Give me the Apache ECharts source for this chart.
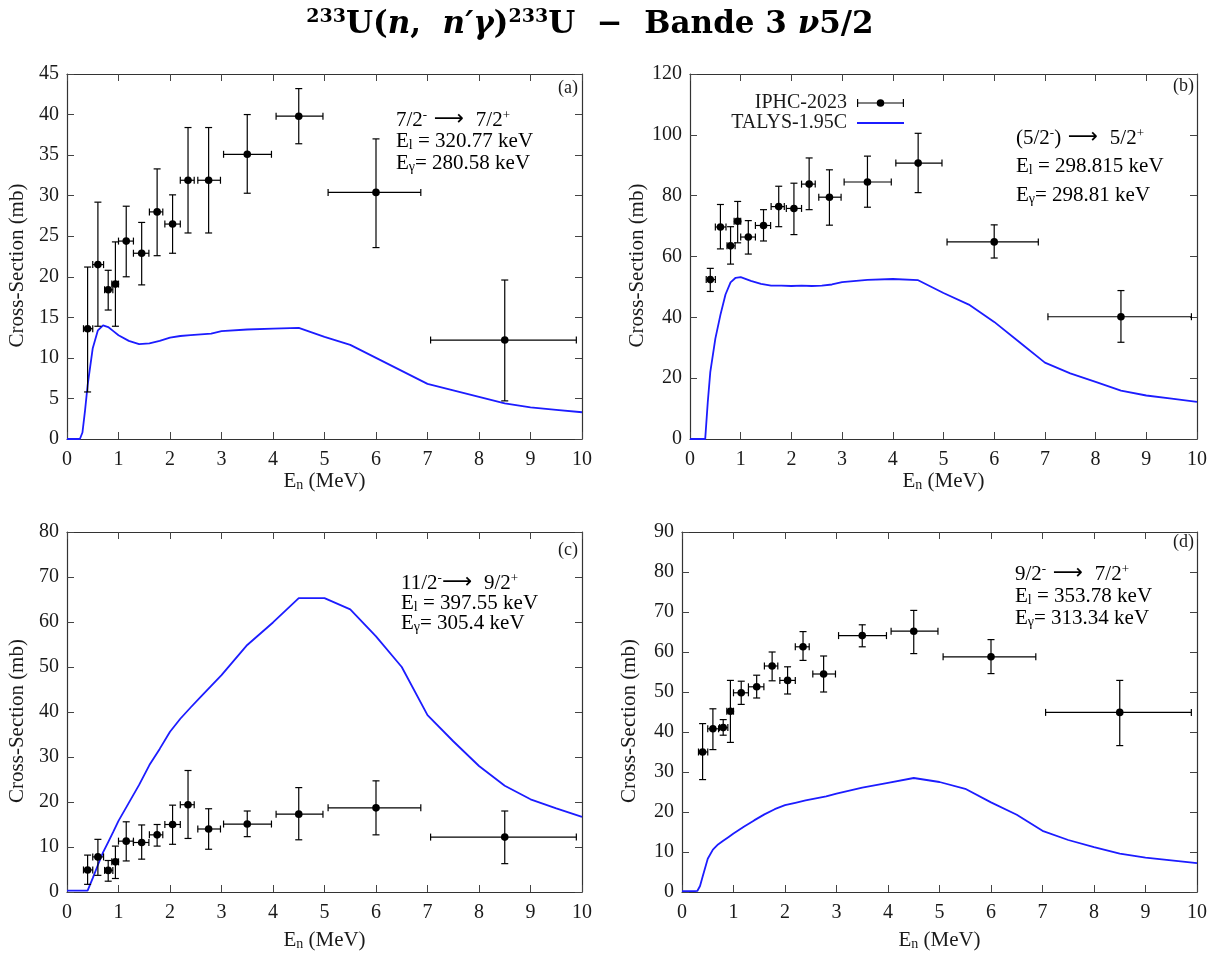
<!DOCTYPE html>
<html><head><meta charset="utf-8">
<script src="https://cdn.jsdelivr.net/npm/echarts@6/dist/echarts.min.js"></script>
<style>html,body{margin:0;padding:0;background:#fff}#c{width:1219px;height:953px}</style>
</head><body><div id="c"></div>
<script>
// ---- measured points (IPHC-2023) ----
const energy     = [0.4, 0.6, 0.8, 0.94, 1.15, 1.45, 1.75, 2.05, 2.35, 2.75, 3.5, 4.5, 6.0, 8.5];
const energyLow  = [0.32, 0.5, 0.73, 0.87, 1.0, 1.29, 1.6, 1.9, 2.2, 2.54, 3.04, 4.06, 5.07, 7.06];
const energyHigh = [0.5, 0.71, 0.89, 1.0, 1.29, 1.59, 1.86, 2.2, 2.47, 2.98, 3.97, 4.97, 6.87, 9.89];

const valA  = [13.6, 21.5, 18.4, 19.1, 24.4, 22.9, 28.0, 26.5, 31.9, 31.9, 35.1, 39.8, 30.4, 12.2];
const lowA  = [5.8, 13.9, 15.9, 13.9, 20.0, 19.0, 22.6, 22.9, 25.4, 25.4, 30.3, 36.4, 23.6, 4.7];
const highA = [21.2, 29.2, 20.8, 24.3, 28.7, 26.7, 33.3, 30.1, 38.4, 38.4, 40.0, 43.2, 37.0, 19.6];

const valB  = [52.4, 69.7, 63.5, 71.6, 66.4, 70.2, 76.4, 75.8, 83.8, 79.5, 84.5, 90.7, 64.8, 40.2];
const lowB  = [48.5, 62.5, 57.5, 64.5, 60.8, 65.1, 69.8, 67.2, 75.4, 70.3, 76.2, 81.0, 59.5, 31.8];
const highB = [56.1, 77.1, 69.8, 78.1, 71.8, 75.4, 83.1, 84.1, 92.4, 88.5, 93.0, 100.5, 70.4, 48.8];

const valC  = [4.9, 7.8, 4.8, 6.7, 11.3, 11.0, 12.7, 15.0, 19.4, 14.0, 15.1, 17.3, 18.7, 12.2];
const lowC  = [1.7, 3.7, 2.4, 3.0, 6.9, 7.3, 10.2, 10.6, 11.9, 9.5, 12.3, 11.6, 12.7, 6.3];
const highC = [8.2, 11.7, 7.0, 10.2, 15.6, 14.9, 15.0, 19.3, 27.0, 18.5, 18.0, 23.2, 24.7, 18.0];

const valD  = [35.0, 40.8, 41.1, 45.2, 49.8, 51.3, 56.5, 52.9, 61.3, 54.5, 64.1, 65.2, 58.8, 44.9];
const lowD  = [28.1, 35.6, 39.2, 37.4, 46.9, 48.5, 52.8, 49.5, 57.9, 50.0, 61.3, 59.6, 54.6, 36.6];
const highD = [42.1, 45.8, 43.1, 52.9, 52.7, 54.2, 60.0, 56.3, 65.1, 59.0, 66.8, 70.4, 63.1, 52.9];

// ---- TALYS-1.95C curves ----
const talysE = [0, 0.25, 0.3, 0.35, 0.4, 0.5, 0.6, 0.7, 0.8, 0.9, 1.0, 1.2, 1.4, 1.6, 1.8, 2.0, 2.2, 2.4, 2.6, 2.8, 3.0, 3.5, 4.0, 4.5, 5.0, 5.5, 6.0, 6.5, 7.0, 7.5, 8.0, 8.5, 9.0, 9.5, 10];
const talysA = [0, 0, 0.8, 3.5, 6.6, 11.2, 13.4, 14.0, 13.8, 13.3, 12.8, 12.1, 11.7, 11.8, 12.1, 12.5, 12.7, 12.8, 12.9, 13.0, 13.3, 13.5, 13.6, 13.7, 12.6, 11.6, 10.0, 8.4, 6.8, 6.0, 5.2, 4.4, 3.9, 3.6, 3.3];
const talysB = [0, 0, 0, 12, 22, 33, 40.8, 47.5, 51.5, 53.0, 53.2, 52.0, 51.0, 50.4, 50.4, 50.3, 50.4, 50.3, 50.4, 50.8, 51.6, 52.3, 52.6, 52.2, 48.0, 44.2, 38.5, 31.8, 25.1, 21.6, 18.8, 15.9, 14.3, 13.3, 12.2];
const talysC = [0.3, 0.3, 0.3, 0.3, 0.3, 3.1, 6.0, 8.8, 11.1, 13.4, 15.8, 19.8, 23.8, 28.2, 31.8, 35.6, 38.5, 41.0, 43.4, 45.8, 48.2, 54.9, 59.9, 65.3, 65.3, 62.8, 56.8, 50.0, 39.3, 33.5, 28.0, 23.6, 20.6, 18.6, 16.7];
const talysD = [0.2, 0.2, 0.3, 1.5, 3.8, 8.3, 10.6, 11.9, 12.8, 13.7, 14.6, 16.3, 17.9, 19.4, 20.7, 21.7, 22.3, 22.9, 23.4, 23.9, 24.6, 26.1, 27.3, 28.5, 27.5, 25.8, 22.4, 19.3, 15.3, 13.0, 11.2, 9.6, 8.6, 7.9, 7.2];

// ---- axes / labels ----
const yMax  = [45, 120, 80, 90];
const yStep = [5, 20, 10, 10];
const panelTags = ['(a)', '(b)', '(c)', '(d)'];
const transitions = [
  '{n|7/2}{sup|-}{arr| ⟶ }{n| 7/2}{sup|+}',
  '{n|(5/2}{sup|-}{n|)}{arr| ⟶ }{n| 5/2}{sup|+}',
  '{n|11/2}{sup|-}{arr|⟶ }{n| 9/2}{sup|+}',
  '{n|9/2}{sup|-}{arr| ⟶ }{n| 7/2}{sup|+}'
];
const levelE = ['320.77', '298.815', '397.55', '353.78'];
const gammaE = ['280.58', '298.81', '305.4', '313.34'];

const vals = [valA, valB, valC, valD], lows = [lowA, lowB, lowC, lowD], highs = [highA, highB, highC, highD];
const talys = [talysA, talysB, talysC, talysD];

// layout (pixels)
const grids = [
  {left: 67, top: 74, width: 515, height: 365},
  {left: 690, top: 74, width: 507, height: 365},
  {left: 67, top: 532, width: 515, height: 360},
  {left: 682, top: 532, width: 515, height: 360}
];
const xNameGap = [28, 28, 37, 37];
const tagPos = [[578, 88], [1194, 86], [578, 550], [1194, 542]];
const annot = [
  {x: 396, y: 120, dy: 21.5},
  {x: 1016, y: 138, dy: 28.5},
  {x: 401, y: 583, dy: 20},
  {x: 1015, y: 574, dy: 22}
];

const FONT = 'Liberation Serif';
const TXT = '#1a1a1a';
const BLUE = '#1c1cff';

function renderErr(params, api) {
  const c = api.coord([api.value(0), api.value(1)]);
  const l = api.coord([api.value(2), api.value(1)]);
  const r = api.coord([api.value(3), api.value(1)]);
  const b = api.coord([api.value(0), api.value(4)]);
  const t = api.coord([api.value(0), api.value(5)]);
  const cap = 3.5;
  const st = {stroke: '#000', lineWidth: 1.2};
  const ln = (x1, y1, x2, y2) => ({type: 'line', shape: {x1, y1, x2, y2}, style: st});
  return {type: 'group', children: [
    ln(l[0], c[1], r[0], c[1]),
    ln(l[0], c[1] - cap, l[0], c[1] + cap),
    ln(r[0], c[1] - cap, r[0], c[1] + cap),
    ln(c[0], b[1], c[0], t[1]),
    ln(c[0] - cap, b[1], c[0] + cap, b[1]),
    ln(c[0] - cap, t[1], c[0] + cap, t[1]),
    {type: 'circle', shape: {cx: c[0], cy: c[1], r: 3.8}, style: {fill: '#000'}}
  ]};
}

const xAxes = [], yAxes = [], series = [], graphics = [];
const mkLine = () => ({show: true, onZero: false, lineStyle: {color: '#333', width: 1.2}});
const mkTick = () => ({show: true, inside: true, length: 7, lineStyle: {color: '#444', width: 1}});
const subRich = {
  n: {fontSize: 21, fontFamily: FONT, color: TXT, lineHeight: 22},
  sub: {fontSize: 14, fontFamily: FONT, color: TXT, lineHeight: 14, verticalAlign: 'bottom'}
};

for (let i = 0; i < 4; i++) {
  xAxes.push({
    gridIndex: i, type: 'value', min: 0, max: 10, interval: 1, position: 'bottom',
    axisLine: mkLine(), axisTick: mkTick(), splitLine: {show: false},
    axisLabel: {fontFamily: FONT, fontSize: 20, color: TXT, margin: 11},
    name: '{n|E}{sub|n}{n| (MeV)}', nameLocation: 'middle', nameGap: xNameGap[i],
    nameTextStyle: {rich: subRich}
  });
  xAxes.push({
    gridIndex: i, type: 'value', min: 0, max: 10, interval: 1, position: 'top',
    axisLine: mkLine(), axisTick: mkTick(), axisLabel: {show: false}, splitLine: {show: false}
  });
  yAxes.push({
    gridIndex: i, type: 'value', min: 0, max: yMax[i], interval: yStep[i], position: 'left',
    axisLine: mkLine(), axisTick: mkTick(), splitLine: {show: false},
    axisLabel: {fontFamily: FONT, fontSize: 20, color: TXT, margin: 8},
    name: 'Cross-Section (mb)', nameLocation: 'middle', nameGap: i % 2 ? 42 : 39,
    nameTextStyle: {fontFamily: FONT, fontSize: 21, color: TXT, padding: [0, 18, 0, 0]}
  });
  yAxes.push({
    gridIndex: i, type: 'value', min: 0, max: yMax[i], interval: yStep[i], position: 'right',
    axisLine: mkLine(), axisTick: mkTick(), axisLabel: {show: false}, splitLine: {show: false}
  });

  series.push({
    name: 'TALYS-1.95C', type: 'line', xAxisIndex: 2 * i, yAxisIndex: 2 * i,
    data: talysE.map((e, k) => [e, talys[i][k]]),
    showSymbol: false, symbol: 'none', smooth: false,
    lineStyle: {color: BLUE, width: 1.8}, itemStyle: {color: BLUE},
    z: 2, animation: false
  });
  series.push({
    name: 'IPHC-2023', type: 'custom', xAxisIndex: 2 * i, yAxisIndex: 2 * i,
    data: energy.map((e, k) => [e, vals[i][k], energyLow[k], energyHigh[k], lows[i][k], highs[i][k]]),
    encode: {x: 0, y: 1},
    renderItem: renderErr, itemStyle: {color: '#000'}, z: 3, animation: false
  });

  graphics.push({
    type: 'text', z: 10,
    style: {x: tagPos[i][0], y: tagPos[i][1], text: panelTags[i], align: 'right', verticalAlign: 'middle',
      font: '18px "' + FONT + '"', fill: TXT}
  });
  const rich = {
    n: {fontSize: 21, fontFamily: FONT, color: TXT, lineHeight: 22},
    sup: {fontSize: 13, fontFamily: FONT, color: TXT, lineHeight: 13, verticalAlign: 'top'},
    sub: {fontSize: 14, fontFamily: FONT, color: TXT, lineHeight: 14, verticalAlign: 'bottom'},
    arr: {fontSize: 21, fontFamily: 'DejaVu Sans', color: TXT, lineHeight: 22}
  };
  const lines = [
    transitions[i],
    '{n|E}{sub|l}{n| = ' + levelE[i] + ' keV}',
    '{n|E}{sub|γ}{n|= ' + gammaE[i] + ' keV}'
  ];
  lines.forEach((t, k) => {
    graphics.push({
      type: 'text', z: 10,
      style: {x: annot[i].x, y: annot[i].y + k * annot[i].dy, text: t, rich, verticalAlign: 'middle', align: 'left'}
    });
  });
}

// title
const TFONT = 'DejaVu Serif';
graphics.push({
  type: 'text', z: 10,
  style: {
    x: 590, y: 25, align: 'center', verticalAlign: 'middle',
    text: '{s|233}{b|U(}{bi|n}{b|,  }{bi|n′γ}{b|)}{s|233}{b|U  −  Bande 3 }{bi|ν}{b|5/2}',
    rich: {
      b: {fontSize: 31, fontWeight: 'bold', fontFamily: TFONT, color: '#000', lineHeight: 34},
      bi: {fontSize: 31, fontWeight: 'bold', fontStyle: 'italic', fontFamily: TFONT, color: '#000', lineHeight: 34},
      s: {fontSize: 19, fontWeight: 'bold', fontFamily: TFONT, color: '#000', lineHeight: 19, verticalAlign: 'top'}
    }
  }
});

const errIcon = 'path://M0,4.4H47V5.6H0Z M0,1H1.2V9H0Z M45.8,1H47V9H45.8Z M19.7,5A3.8,3.8 0 1,1 27.3,5A3.8,3.8 0 1,1 19.7,5Z';
const lineIcon = 'path://M0,0H47V1.8H0Z';
const legendText = {fontFamily: FONT, fontSize: 20, color: TXT, padding: [0, 5, 0, 0]};

const chart = echarts.init(document.getElementById('c'), null, {renderer: 'canvas'});
chart.setOption({
  backgroundColor: '#fff',
  animation: false,
  grid: grids,
  xAxis: xAxes,
  yAxis: yAxes,
  legend: [
    {data: [{name: 'IPHC-2023', icon: errIcon}], right: 310, top: 88, align: 'right', itemWidth: 47, itemHeight: 10,
     textStyle: legendText, selectedMode: false},
    {data: [{name: 'TALYS-1.95C', icon: lineIcon}], right: 310, top: 108, align: 'right', itemWidth: 47, itemHeight: 10,
     textStyle: legendText, selectedMode: false}
  ],
  series,
  graphic: graphics
});
</script></body></html>
